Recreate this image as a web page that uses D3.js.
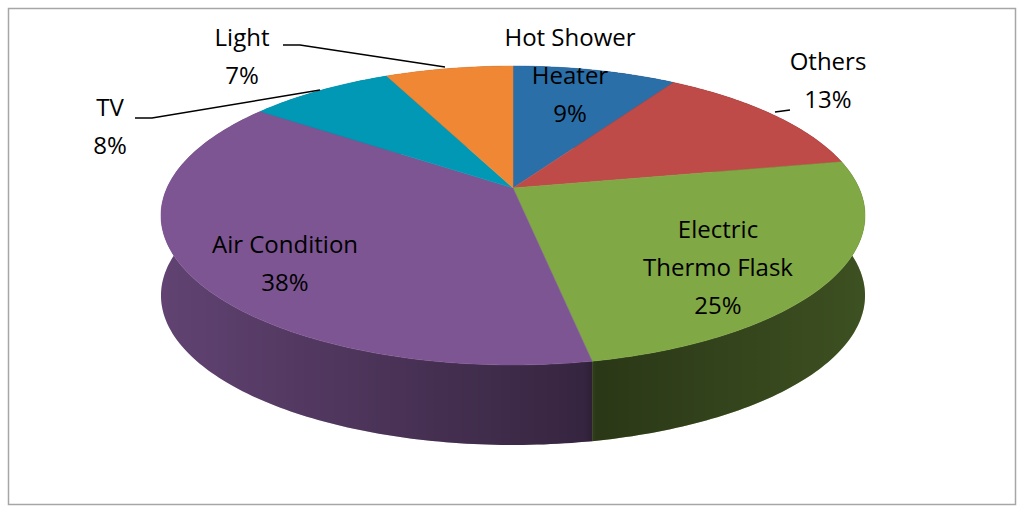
<!DOCTYPE html>
<html lang="en">
<head>
<script src="https://d3js.org/d3.v7.min.js"></script>
<style>body{margin:0;background:#fff}</style>
</head>
<body>
<script>
// data
var labels = ["Hot Shower Heater", "Others", "Electric Thermo Flask", "Air Condition", "TV", "Light"];
var values = [9, 13, 25, 38, 8, 7];
var colours = ["#2A6FA8", "#BE4B48", "#80A845", "#7D5592", "#0098B4", "#F08735"];

var width = 1024, height = 513;
var svg = d3.select("body").append("svg").attr("width", width).attr("height", height);

svg.append("rect").attr("x", 8.5).attr("y", 8.5).attr("width", 1007).attr("height", 496)
   .attr("fill", "#fff").attr("stroke", "#a6a6a6").attr("stroke-width", 1.5);

// perspective projection of a unit circle onto the page
var cx = 513, cy = 188, A = 346, B = 144.4, k = 0.184, depth = 80;
function proj(a) {
        var x = Math.sin(a), y = -Math.cos(a), w = 1 - k * y;
        return [cx + A * x / w, cy + B * y / w];
}

var pie = d3.pie().sort(null).value(function(d) { return d; });
var arcs = pie(values);

var line = d3.line();
function arcPts(d) {
        var n = Math.max(8, Math.ceil((d.endAngle - d.startAngle) * 60));
        return d3.range(n + 1).map(function(i) {
                return proj(d.startAngle + (d.endAngle - d.startAngle) * i / n);
        });
}

var defs = svg.append("defs");
var g = defs.append("linearGradient").attr("id", "shade").attr("gradientUnits", "userSpaceOnUse")
        .attr("x1", 160).attr("x2", 865).attr("y1", 0).attr("y2", 0);
g.append("stop").attr("offset", "0").attr("stop-color", "#000").attr("stop-opacity", 0.1);
g.append("stop").attr("offset", "0.6").attr("stop-color", "#000").attr("stop-opacity", 0.5);
g.append("stop").attr("offset", "0.62").attr("stop-color", "#000").attr("stop-opacity", 0.62);
g.append("stop").attr("offset", "1").attr("stop-color", "#000").attr("stop-opacity", 0.45);

// sides, back to front
var sides = arcs.map(function(d, i) {
        var pts = arcPts(d);
        var low = pts.map(function(p) { return [p[0], p[1] + depth]; }).reverse();
        return {i: i, pts: pts.concat(low), yMax: d3.max(pts, function(p) { return p[1]; })};
}).sort(function(a, b) { return a.yMax - b.yMax; });

var sideG = svg.append("g");
sides.forEach(function(s) {
        sideG.append("path").attr("d", line(s.pts) + "Z")
             .attr("fill", d3.color(colours[s.i]).darker(0.4));
        sideG.append("path").attr("d", line(s.pts) + "Z").attr("fill", "url(#shade)");
});

// top faces
svg.append("g").selectAll("path").data(arcs).join("path")
   .attr("d", function(d) { return line([[cx, cy]].concat(arcPts(d))) + "Z"; })
   .attr("fill", function(d, i) { return colours[i]; })
   .attr("stroke", function(d, i) { return colours[i]; }).attr("stroke-width", 0.5);

// leader lines
var leaders = [
        [[283, 45], [300, 45], [445, 67]],
        [[135, 118], [152, 118], [320, 90]],
        [[775, 112], [790, 110]]
];
svg.append("g").selectAll("path").data(leaders).join("path")
   .attr("d", function(d) { return line(d); }).attr("fill", "none")
   .attr("stroke", "#000").attr("stroke-width", 1.5);

// labels
var labelLines = [
        ["Hot Shower", "Heater", "9%"],
        ["Others", "13%"],
        ["Electric", "Thermo Flask", "25%"],
        ["Air Condition", "38%"],
        ["TV", "8%"],
        ["Light", "7%"]
];
var labelPos = [[570, 46], [828, 70], [718, 238], [285, 253], [110, 116], [242, 46]];
labelLines.forEach(function(ls, i) {
        var t = svg.append("text").attr("text-anchor", "middle")
                   .attr("font-family", "Open Sans, sans-serif").attr("font-size", 24).attr("fill", "#000");
        ls.forEach(function(s, j) {
                t.append("tspan").attr("x", labelPos[i][0]).attr("y", labelPos[i][1] + j * 38).text(s);
        });
});
</script>
</body>
</html>
